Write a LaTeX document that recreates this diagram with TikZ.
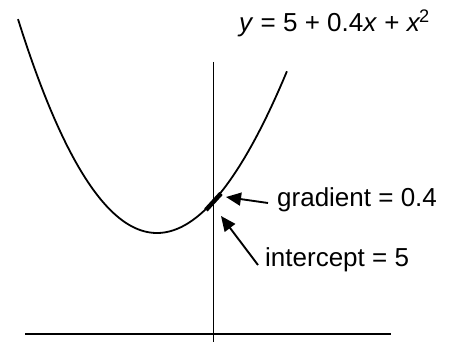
\documentclass[tikz,border=0pt]{standalone}
\usepackage{fontspec}
\setmainfont{Liberation Sans}
\usetikzlibrary{arrows.meta,calc}
\begin{document}
\begin{tikzpicture}[x=1pt,y=-1pt,
  axis/.style={line width=1.8pt},
  curve/.style={line width=1.8pt},
  arr/.style={line width=1.9pt,-{Triangle[length=15pt,width=13pt]}},
  lbl/.style={anchor=base west,inner sep=0pt,font=\fontsize{26}{30}\selectfont}]
\useasboundingbox (0,0) rectangle (456,342);
% axes
\coordinate (hl) at (25,334);
\coordinate (hr) at (391,334);
\coordinate (vt) at (213.5,62);
\coordinate (vb) at (213.5,342);
\draw[axis] (hl) -- (hr);
\draw[axis] (vt) -- (vb);
% curve
\draw[curve] plot[domain=-1.39:1.30,samples=120,variable=\t]
  ({157+100*\t},{233-103*\t*\t+5.54*\t*\t*\t});
% tangent segment
\coordinate (P) at (213.5,201.7);
\draw[line width=4.5pt] ($(P)+(-7.5,8.2)$) -- ($(P)+(7.5,-8.2)$);
% labels
\node[lbl] (eq) at (239,32) {\textit{y} = 5 + 0.4\textit{x} + \textit{x}\kern-1.5pt\textsuperscript{2}};
\node[lbl] (grad) at (277,207) {gradient = 0.4};
\node[lbl] (inter) at (265,267) {intercept = 5};
% arrows
\coordinate (gtip) at (226,197);
\coordinate (itip) at (221,216);
\draw[arr] ([shift={(-9,-4)}]grad.base west) -- (gtip);
\draw[arr] ([shift={(-7,-2)}]inter.base west) -- (itip);
\end{tikzpicture}
\end{document}
